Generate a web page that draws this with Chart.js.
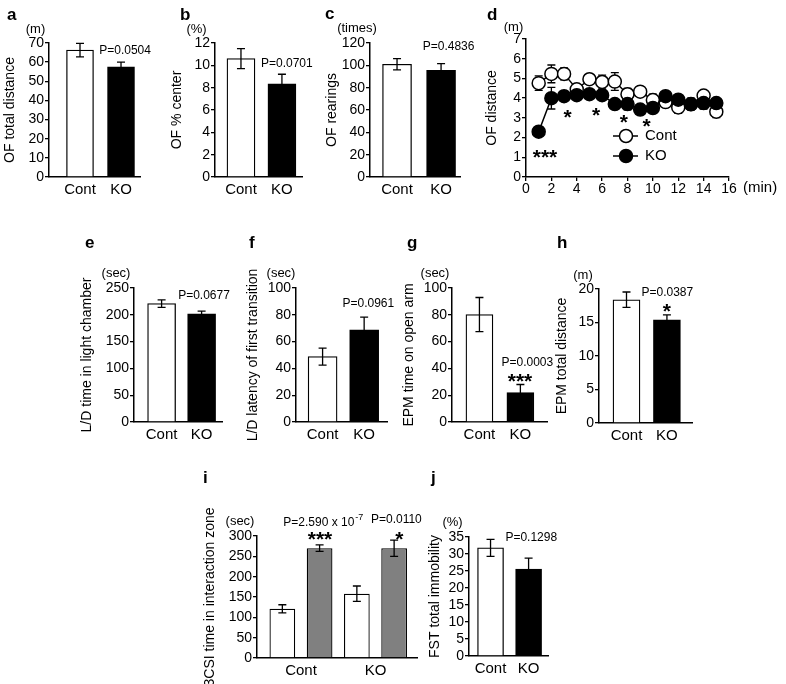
<!DOCTYPE html>
<html>
<head>
<meta charset="utf-8">
<title>Behavioural tests: Cont vs KO</title>
<script src="https://cdn.jsdelivr.net/npm/chart.js@4.4.1/dist/chart.umd.min.js"></script>
<style>
  body { margin: 0; background: #fff; }
  #page { position: relative; width: 786px; height: 684px; overflow: hidden; }
  #page canvas { position: absolute; }
</style>
</head>
<body>
<div id="page"><canvas id="letters" width="786" height="684" style="left:0;top:0"></canvas></div>
<script>
const groups = ['Cont', 'KO'];
const groupFill = ['#ffffff', '#000000'];

// a: OF total distance (m)
const ofTotal = [66.3, 57.5];
const ofTotalSem = [3.5, 2.5];
const pOfTotal = 'P=0.0504';
// b: OF % center
const ofCenter = [10.6, 8.35];
const ofCenterSem = [0.9, 0.85];
const pOfCenter = 'P=0.0701';
// c: OF rearings (times)
const ofRear = [101, 95.5];
const ofRearSem = [5, 6];
const pOfRear = 'P=0.4836';
// d: OF distance per minute (m)
const minutes = [1, 2, 3, 4, 5, 6, 7, 8, 9, 10, 11, 12, 13, 14, 15];
const distCont = [4.76, 5.23, 5.23, 4.45, 4.96, 4.82, 4.84, 4.2, 4.33, 3.9, 3.8, 3.53, 3.69, 4.13, 3.31];
const distContSem = [0.37, 0.45, 0.3, 0.2, 0.25, 0.35, 0.45, 0.3, 0.2, 0.3, 0.25, 0.3, 0.2, 0.25, 0.3];
const distKO = [2.3, 4.0, 4.1, 4.15, 4.2, 4.15, 3.7, 3.7, 3.42, 3.5, 4.1, 3.92, 3.7, 3.75, 3.75];
const distKOSem = [0.2, 0.55, 0.2, 0.2, 0.2, 0.25, 0.2, 0.3, 0.2, 0.2, 0.2, 0.2, 0.3, 0.3, 0.2];
const dStarX = [1.5, 3.27, 5.52, 7.72, 9.5];
const dStarY = [1.27, 3.31, 3.4, 3.06, 2.86];
const dStars = ['***', '*', '*', '*', '*'];
// e: L/D time in light chamber (sec)
const ldLight = [221, 202];
const ldLightSem = [7, 5];
const pLdLight = 'P=0.0677';
// f: L/D latency of first transition (sec)
const ldLatency = [48.8, 68.8];
const ldLatencySem = [6.4, 9.4];
const pLdLatency = 'P=0.0961';
// g: EPM time on open arm (sec)
const epmOpen = [80.2, 22];
const epmOpenSem = [12.7, 6];
const pEpmOpen = 'P=0.0003';
// h: EPM total distance (m)
const epmDist = [18.4, 15.4];
const epmDistSem = [1.15, 0.75];
const pEpmDist = 'P=0.0387';
// i: 3CSI time in interaction zone (sec), white and grey bars
const csiEmpty = [121, 158];
const csiEmptySem = [10, 19];
const csiStranger = [270, 270];
const csiStrangerSem = [8, 20];
// j: FST total immobility (%)
const fstImmob = [31.8, 25.6];
const fstImmobSem = [2.5, 3.2];
const pFst = 'P=0.1298';

const FONT = '"Liberation Sans", Arial, Helvetica, sans-serif';
Chart.defaults.font.family = FONT;
Chart.defaults.color = '#000';
Chart.defaults.animation = false;

function drawErrors(chart, errors) {
    if (!errors) return;
    const ctx = chart.ctx;
    const ys = chart.scales.y;
    ctx.save();
    ctx.strokeStyle = '#000';
    ctx.lineWidth = 1.3;
    errors.forEach((errs, di) => {
        const meta = chart.getDatasetMeta(di);
        const data = chart.data.datasets[di].data;
        meta.data.forEach((el, j) => {
            const v = data[j].y;
            const top = ys.getPixelForValue(v + errs[j]);
            const bot = ys.getPixelForValue(v - errs[j]);
            ctx.beginPath();
            ctx.moveTo(el.x, top); ctx.lineTo(el.x, bot);
            ctx.moveTo(el.x - 4, top); ctx.lineTo(el.x + 4, top);
            ctx.moveTo(el.x - 4, bot); ctx.lineTo(el.x + 4, bot);
            ctx.stroke();
        });
    });
    ctx.restore();
}

function drawNote(chart, n) {
    const ctx = chart.ctx;
    const px = chart.scales.x.getPixelForValue(n.x);
    const py = chart.scales.y.getPixelForValue(n.y);
    ctx.fillStyle = '#000';
    if (/^\*+$/.test(n.text)) {
        // stars: n.y is the visual centre of the glyph
        ctx.font = 'bold 21px ' + FONT;
        ctx.textAlign = 'center';
        ctx.textBaseline = 'alphabetic';
        ctx.fillText(n.text, px, py + 0.57 * 21);
        return;
    }
    ctx.font = '12px ' + FONT;
    ctx.textBaseline = 'middle';
    const w = ctx.measureText(n.text).width;
    if (n.sup) {
        ctx.font = '9px ' + FONT;
        const ws = ctx.measureText(n.sup).width;
        const start = px - (w + ws + 1) / 2;
        ctx.textAlign = 'left';
        ctx.fillText(n.sup, start + w + 1, py - 5);
        ctx.font = '12px ' + FONT;
        ctx.fillText(n.text, start, py);
    } else {
        ctx.textAlign = 'center';
        ctx.fillText(n.text, px, py);
    }
}

const panelPlugin = {
    id: 'panel',
    beforeDatasetsDraw(chart, args, opts) {
        if (opts.errorsFirst) drawErrors(chart, opts.errors);
    },
    afterDatasetsDraw(chart, args, opts) {
        if (!opts.errorsFirst) drawErrors(chart, opts.errors);
    },
    afterDraw(chart, args, opts) {
        const ctx = chart.ctx;
        const area = chart.chartArea;
        ctx.save();
        ctx.fillStyle = '#000';
        if (opts.unit) {
            ctx.font = '13px ' + FONT;
            ctx.textAlign = 'center';
            ctx.textBaseline = 'middle';
            ctx.fillText(opts.unit, area.left + opts.unitAt[0], area.top + opts.unitAt[1]);
        }
        (opts.notes || []).forEach(n => drawNote(chart, n));
        if (opts.legend) {
            const lg = opts.legend;
            lg.items.forEach((it, k) => {
                const y = area.top + lg.y + k * lg.gap;
                ctx.strokeStyle = '#000';
                ctx.lineWidth = 1.5;
                ctx.beginPath();
                ctx.moveTo(area.left + lg.x0, y);
                ctx.lineTo(area.left + lg.x1, y);
                ctx.stroke();
                ctx.beginPath();
                ctx.arc(area.left + lg.cx, y, 6.5, 0, Math.PI * 2);
                ctx.fillStyle = it.fill;
                ctx.fill();
                ctx.stroke();
                ctx.fillStyle = '#000';
                ctx.font = '15px ' + FONT;
                ctx.textAlign = 'left';
                ctx.textBaseline = 'middle';
                ctx.fillText(it.label, area.left + lg.tx, y);
            });
        }
        if (opts.xUnit) {
            ctx.font = '15px ' + FONT;
            ctx.textAlign = 'left';
            ctx.textBaseline = 'top';
            ctx.fillText(opts.xUnit, chart.scales.x.getPixelForValue(16) + 14, area.bottom + 3);
        }
        ctx.restore();
    }
};

function addCanvas(box) {
    const c = document.createElement('canvas');
    c.width = box[2] - box[0];
    c.height = box[3] - box[1];
    c.style.left = box[0] + 'px';
    c.style.top = box[1] + 'px';
    document.getElementById('page').appendChild(c);
    return c;
}

function frame(p) {
    const [cl, ct, cr, cb] = p.box;
    const [x0, y0, x1, y1] = p.area;
    return { left: x0 - cl, top: y0 - ct, right: cr - x1, bottom: cb - y1 };
}

function yScale(p, f) {
    return {
        min: 0, max: p.max,
        ticks: { stepSize: p.step, autoSkip: false, color: '#000', font: { size: 14 }, padding: 1 },
        grid: { drawOnChartArea: false, drawTicks: true, tickLength: 4, color: '#000', lineWidth: 1.3 },
        border: { color: '#000', width: 1.5 },
        title: { display: true, text: p.title, color: '#000', font: { size: 14 }, padding: 0 },
        afterFit: s => { s.width = f.left; }
    };
}

function barPanel(p) {
    const f = frame(p);
    const datasets = p.series.map(([vals, errs, fills]) => ({
        data: vals.map((v, i) => ({ x: i + 1, y: v })),
        backgroundColor: fills,
        borderColor: '#000',
        borderWidth: 1.3,
        barThickness: p.barWidth,
        categoryPercentage: 1,
        barPercentage: 0.69
    }));
    new Chart(addCanvas(p.box), {
        type: 'bar',
        data: { datasets },
        options: {
            responsive: false,
            events: [],
            layout: { padding: { top: f.top, right: f.right, left: 0, bottom: 0 } },
            scales: {
                x: {
                    type: 'linear', min: p.xRange[0], max: p.xRange[1], offset: false,
                    afterBuildTicks: s => { s.ticks = groups.map((g, i) => ({ value: i + 1 })); },
                    ticks: { color: '#000', font: { size: 15 }, padding: 4, maxRotation: 0, autoSkip: false, callback: v => groups[v - 1] },
                    grid: { offset: false, drawOnChartArea: false, drawTicks: false },
                    border: { color: '#000', width: 1.5 },
                    afterFit: s => { s.height = f.bottom; }
                },
                y: yScale(p, f)
            },
            plugins: {
                legend: { display: false },
                tooltip: { enabled: false },
                panel: { errors: p.series.map(s => s[1]), unit: p.unit, unitAt: p.unitAt, notes: p.notes }
            }
        },
        plugins: [panelPlugin]
    });
}

const barPanels = [
    { box: [2, 0, 165, 205], area: [49, 43, 140, 177], xRange: [0.244, 2.463],
      title: 'OF total distance', unit: '(m)', unitAt: [-13.5, -14], max: 70, step: 10, barWidth: 27,
      series: [[ofTotal, ofTotalSem, groupFill]],
      notes: [{ x: 2.1, y: 65.8, text: pOfTotal }] },
    { box: [169, 0, 318, 205], area: [215, 43, 302, 177], xRange: [0.366, 2.49],
      title: 'OF % center', unit: '(%)', unitAt: [-18.5, -14], max: 12, step: 2, barWidth: 28,
      series: [[ofCenter, ofCenterSem, groupFill]],
      notes: [{ x: 2.12, y: 10.12, text: pOfCenter }] },
    { box: [324, 0, 480, 205], area: [370, 43, 460, 177], xRange: [0.386, 2.43],
      title: 'OF rearings', unit: '(times)', unitAt: [-13, -15], max: 120, step: 20, barWidth: 29,
      series: [[ofRear, ofRearSem, groupFill]],
      notes: [{ x: 2.17, y: 116.4, text: pOfRear }] },
    { box: [79, 232, 240, 450], area: [134, 288, 222, 422], xRange: [0.31, 2.51],
      title: 'L/D time in light chamber', unit: '(sec)', unitAt: [-18, -15], max: 250, step: 50, barWidth: 28,
      series: [[ldLight, ldLightSem, groupFill]],
      notes: [{ x: 2.06, y: 235, text: pLdLight }] },
    { box: [245, 232, 400, 450], area: [296, 288, 387, 422], xRange: [0.36, 2.55],
      title: 'L/D latency of first transition', unit: '(sec)', unitAt: [-15, -15], max: 100, step: 20, barWidth: 29,
      series: [[ldLatency, ldLatencySem, groupFill]],
      notes: [{ x: 2.1, y: 88, text: pLdLatency }] },
    { box: [401, 232, 556, 450], area: [452, 288, 547, 422], xRange: [0.33, 2.65],
      title: 'EPM time on open arm', unit: '(sec)', unitAt: [-17, -15], max: 100, step: 20, barWidth: 27,
      series: [[epmOpen, epmOpenSem, groupFill]],
      notes: [{ x: 2.17, y: 44, text: pEpmOpen }, { x: 1.99, y: 34.3, text: '***' }] },
    { box: [554, 232, 705, 450], area: [599, 289, 692, 423], xRange: [0.32, 2.62],
      title: 'EPM total distance', unit: '(m)', unitAt: [-16, -14], max: 20, step: 5, barWidth: 27,
      series: [[epmDist, epmDistSem, groupFill]],
      notes: [{ x: 2.01, y: 19.4, text: pEpmDist }, { x: 2, y: 17.5, text: '*' }] },
    { box: [202, 465, 422, 684], area: [257, 536, 417, 658], xRange: [0.41, 2.557],
      title: '3CSI time in interaction zone', unit: '(sec)', unitAt: [-17, -15], max: 300, step: 50,
      series: [[csiEmpty, csiEmptySem, ['#ffffff', '#ffffff']], [csiStranger, csiStrangerSem, ['#808080', '#808080']]],
      notes: [{ x: 1.3, y: 333, text: 'P=2.590 x 10', sup: '-7' }, { x: 1.255, y: 305, text: '***' },
              { x: 2.28, y: 341, text: 'P=0.0110' }, { x: 2.32, y: 306, text: '*' }] },
    { box: [427, 465, 562, 684], area: [469, 537, 548, 656], xRange: [0.434, 2.51],
      title: 'FST total immobility', unit: '(%)', unitAt: [-16.5, -15], max: 35, step: 5, barWidth: 26,
      series: [[fstImmob, fstImmobSem, groupFill]],
      notes: [{ x: 2.07, y: 34.7, text: pFst }] }
];

barPanels.forEach(barPanel);

// d: line chart per minute
const dPanel = { box: [484, 0, 786, 205], area: [526, 39, 729, 177], title: 'OF distance', max: 7, step: 1 };
const df = frame(dPanel);
new Chart(addCanvas(dPanel.box), {
    type: 'line',
    data: {
        datasets: [
            { label: 'Cont', data: minutes.map((m, i) => ({ x: m, y: distCont[i] })), order: 2,
              borderColor: '#000', borderWidth: 1.5, pointRadius: 6.5, pointBorderWidth: 1.5,
              pointBackgroundColor: '#fff', pointBorderColor: '#000' },
            { label: 'KO', data: minutes.map((m, i) => ({ x: m, y: distKO[i] })), order: 1,
              borderColor: '#000', borderWidth: 1.5, pointRadius: 6.5, pointBorderWidth: 1.5,
              pointBackgroundColor: '#000', pointBorderColor: '#000' }
        ]
    },
    options: {
        responsive: false,
        events: [],
        layout: { padding: { top: df.top, right: df.right, left: 0, bottom: 0 } },
        scales: {
            x: {
                type: 'linear', min: 0, max: 16,
                ticks: { stepSize: 2, autoSkip: false, color: '#000', font: { size: 14 }, padding: 0, maxRotation: 0 },
                grid: { drawOnChartArea: false, drawTicks: true, tickLength: 4, color: '#000', lineWidth: 1.3 },
                border: { color: '#000', width: 1.5 },
                afterFit: s => { s.height = df.bottom; }
            },
            y: yScale(dPanel, df)
        },
        plugins: {
            legend: { display: false },
            tooltip: { enabled: false },
            panel: {
                errors: [distContSem, distKOSem], errorsFirst: true,
                unit: '(m)', unitAt: [-12.5, -12],
                notes: dStars.map((t, i) => ({ x: dStarX[i], y: dStarY[i], text: t })),
                legend: { items: [{ label: 'Cont', fill: '#fff' }, { label: 'KO', fill: '#000' }],
                          x0: 87, x1: 112, cx: 100, tx: 119, y: 97, gap: 20 },
                xUnit: '(min)'
            }
        }
    },
    plugins: [panelPlugin]
});

// panel letters
const letters = [['a', 7, 20], ['b', 180, 20], ['c', 325, 19], ['d', 487, 20], ['e', 85, 248],
                 ['f', 249, 248], ['g', 407, 248], ['h', 557, 248], ['i', 203, 483], ['j', 431, 483]];
const lctx = document.getElementById('letters').getContext('2d');
lctx.fillStyle = '#000';
lctx.font = 'bold 17px ' + FONT;
letters.forEach(([t, x, y]) => lctx.fillText(t, x, y));
</script>
</body>
</html>
